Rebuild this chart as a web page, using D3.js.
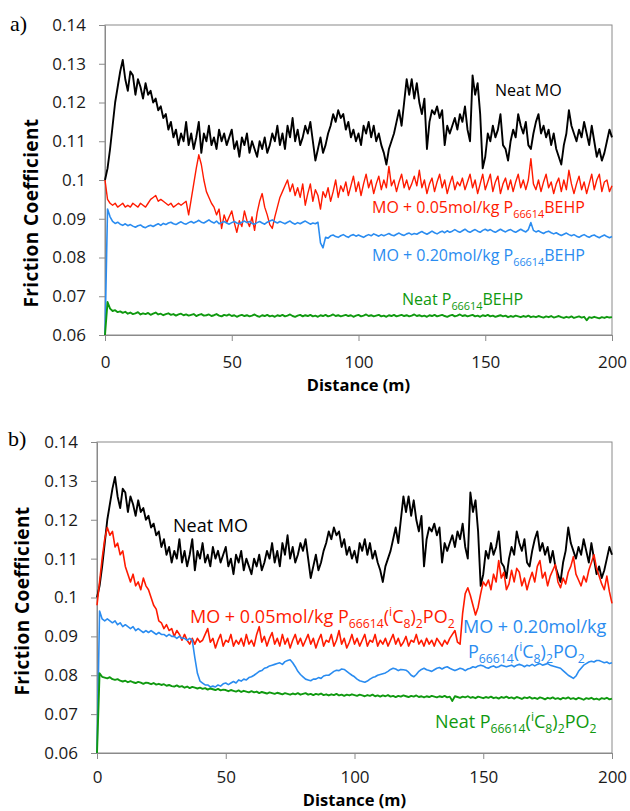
<!DOCTYPE html>
<html>
<head>
<meta charset="utf-8">
<script src="https://cdn.jsdelivr.net/npm/d3@7"></script>
<style>
  body { margin: 0; background: #fff; }
  svg { font-family: "Open Sans", sans-serif; }
</style>
</head>
<body>
<svg id="chart" width="630" height="811"></svg>
<script>
// distance in metres, one reading per metre
const distance = d3.range(0, 201);
const xTicks = [0, 50, 100, 150, 200];
const yTicks = [0.06, 0.07, 0.08, 0.09, 0.1, 0.11, 0.12, 0.13, 0.14];

// Neat MO (same run in both panels)
const neatMO = [
  0.100,0.103,0.108,0.114,0.120,0.124,0.128,0.131,0.126,0.123,
  0.128,0.127,0.122,0.126,0.124,0.121,0.125,0.122,0.123,0.120,
  0.121,0.118,0.119,0.116,0.117,0.113,0.115,0.111,0.113,0.109,
  0.112,0.110,0.115,0.109,0.112,0.108,0.111,0.115,0.107,0.112,
  0.110,0.114,0.109,0.111,0.108,0.113,0.110,0.112,0.109,0.111,
  0.113,0.108,0.110,0.106,0.111,0.109,0.112,0.107,0.110,0.108,
  0.106,0.110,0.108,0.111,0.107,0.109,0.112,0.110,0.114,0.109,
  0.112,0.108,0.114,0.111,0.116,0.110,0.113,0.109,0.111,0.114,
  0.112,0.115,0.110,0.105,0.108,0.111,0.107,0.109,0.112,0.114,
  0.117,0.115,0.118,0.116,0.117,0.113,0.115,0.111,0.113,0.110,
  0.112,0.109,0.114,0.112,0.115,0.111,0.114,0.110,0.112,0.109,
  0.107,0.104,0.108,0.110,0.112,0.115,0.118,0.114,0.120,0.126,
  0.122,0.126,0.121,0.125,0.120,0.117,0.121,0.108,0.115,0.118,
  0.117,0.119,0.116,0.118,0.109,0.114,0.112,0.114,0.116,0.113,
  0.117,0.115,0.119,0.113,0.110,0.127,0.122,0.125,0.117,0.103,
  0.106,0.112,0.110,0.114,0.111,0.113,0.117,0.109,0.108,0.105,
  0.110,0.113,0.111,0.117,0.114,0.112,0.115,0.109,0.108,0.112,
  0.115,0.117,0.112,0.114,0.111,0.113,0.109,0.112,0.108,0.106,
  0.104,0.109,0.112,0.118,0.114,0.112,0.110,0.113,0.111,0.115,
  0.112,0.109,0.114,0.110,0.106,0.108,0.105,0.107,0.110,0.113,
  0.111
];

// panel a: P66614BEHP
const mo005BEHP = [
  0.100,0.095,0.094,0.0935,0.094,0.093,0.0935,0.094,0.093,0.0935,
  0.093,0.094,0.0935,0.093,0.094,0.0935,0.093,0.094,0.095,0.0955,
  0.096,0.0945,0.095,0.0945,0.094,0.0935,0.094,0.093,0.0935,0.094,
  0.0935,0.094,0.0945,0.091,0.095,0.099,0.103,0.1065,0.104,0.100,
  0.097,0.0955,0.094,0.093,0.091,0.0925,0.0875,0.091,0.089,0.0905,
  0.092,0.089,0.0865,0.0895,0.088,0.092,0.0895,0.088,0.0905,0.087,
  0.0915,0.0945,0.0965,0.093,0.091,0.0885,0.0875,0.0905,0.093,0.0955,
  0.097,0.0985,0.100,0.097,0.099,0.096,0.098,0.0955,0.099,0.0935,
  0.0965,0.099,0.0945,0.0975,0.096,0.0925,0.097,0.0955,0.098,0.0945,
  0.097,0.100,0.0955,0.0985,0.097,0.0995,0.096,0.0985,0.101,0.097,
  0.0995,0.096,0.099,0.1015,0.098,0.100,0.0965,0.099,0.101,0.0975,
  0.100,0.098,0.1035,0.0985,0.100,0.097,0.0995,0.1015,0.098,0.100,
  0.0975,0.099,0.101,0.0985,0.1025,0.098,0.100,0.0965,0.099,0.1005,
  0.097,0.0995,0.1015,0.098,0.100,0.0965,0.099,0.101,0.0975,0.0995,
  0.0985,0.1005,0.0975,0.0995,0.1015,0.098,0.100,0.0965,0.099,0.1015,
  0.0975,0.0995,0.1015,0.097,0.0995,0.101,0.0965,0.099,0.1005,0.0975,
  0.100,0.097,0.0995,0.1015,0.098,0.100,0.0975,0.100,0.1055,0.099,
  0.0975,0.100,0.097,0.0995,0.1015,0.098,0.0995,0.0965,0.099,0.1005,
  0.097,0.100,0.0975,0.1025,0.099,0.0965,0.099,0.101,0.0975,0.0995,
  0.0965,0.099,0.1015,0.0975,0.100,0.1015,0.097,0.0995,0.100,0.097,
  0.0985
];
const mo020BEHP = [
  0.060,0.0925,0.0905,0.0893,0.0888,0.0891,0.0886,0.0883,0.0887,0.0882,
  0.0885,0.0881,0.0878,0.0882,0.0884,0.0879,0.0877,0.0881,0.0883,0.0880,
  0.0884,0.0887,0.0883,0.0888,0.0885,0.0889,0.0891,0.0887,0.0885,0.0889,
  0.0892,0.0888,0.0886,0.0890,0.0893,0.0889,0.0892,0.0896,0.0891,0.0889,
  0.0893,0.0897,0.0892,0.0889,0.0894,0.0887,0.0890,0.0893,0.0889,0.0886,
  0.0890,0.0893,0.0889,0.0887,0.0891,0.0894,0.0890,0.0893,0.0888,0.0886,
  0.0890,0.0893,0.0889,0.0886,0.0891,0.0894,0.0897,0.0892,0.0889,0.0893,
  0.0890,0.0887,0.0891,0.0894,0.0889,0.0886,0.0890,0.0887,0.0891,0.0894,
  0.0890,0.0886,0.0889,0.0887,0.0891,0.0838,0.0825,0.0852,0.0850,0.0856,
  0.0858,0.0854,0.0852,0.0856,0.0859,0.0855,0.0852,0.0857,0.0859,0.0855,
  0.0858,0.0855,0.0852,0.0856,0.0859,0.0856,0.0861,0.0858,0.0855,0.0859,
  0.0856,0.0859,0.0862,0.0858,0.0856,0.0860,0.0863,0.0859,0.0857,0.0861,
  0.0863,0.0859,0.0862,0.0860,0.0864,0.0867,0.0863,0.0860,0.0864,0.0868,
  0.0864,0.0861,0.0865,0.0868,0.0864,0.0869,0.0865,0.0868,0.0872,0.0868,
  0.0865,0.0869,0.0873,0.0868,0.0865,0.0869,0.0872,0.0868,0.0865,0.0870,
  0.0873,0.0869,0.0872,0.0868,0.0865,0.0869,0.0873,0.0869,0.0866,0.0870,
  0.0872,0.0868,0.0865,0.0869,0.0873,0.0869,0.0866,0.0872,0.0890,0.0870,
  0.0866,0.0869,0.0865,0.0862,0.0866,0.0868,0.0864,0.0861,0.0864,0.0860,
  0.0857,0.0860,0.0863,0.0859,0.0856,0.0859,0.0855,0.0852,0.0856,0.0859,
  0.0855,0.0852,0.0856,0.0858,0.0854,0.0851,0.0855,0.0858,0.0854,0.0851,
  0.0854
];
const neatBEHP = [
  0.060,0.0685,0.0668,0.0662,0.0664,0.0659,0.0661,0.0657,0.0660,0.0655,
  0.0658,0.0654,0.0656,0.0659,0.0653,0.0656,0.0654,0.0657,0.0652,0.0655,
  0.0658,0.0653,0.0655,0.0651,0.0654,0.0656,0.0652,0.0654,0.0650,0.0653,
  0.0655,0.0651,0.0653,0.0650,0.0652,0.0654,0.0649,0.0652,0.0654,0.0650,
  0.0651,0.0653,0.0649,0.0651,0.0654,0.0650,0.0648,0.0652,0.0650,0.0653,
  0.0649,0.0651,0.0647,0.0650,0.0652,0.0649,0.0651,0.0648,0.0650,0.0653,
  0.0649,0.0647,0.0651,0.0649,0.0652,0.0648,0.0650,0.0647,0.0651,0.0649,
  0.0652,0.0648,0.0650,0.0653,0.0649,0.0647,0.0650,0.0652,0.0648,0.0651,
  0.0649,0.0652,0.0648,0.0650,0.0647,0.0651,0.0649,0.0652,0.0648,0.0650,
  0.0653,0.0649,0.0651,0.0648,0.0650,0.0652,0.0649,0.0651,0.0647,0.0650,
  0.0652,0.0648,0.0650,0.0653,0.0649,0.0651,0.0648,0.0650,0.0652,0.0648,
  0.0650,0.0647,0.0651,0.0649,0.0652,0.0648,0.0650,0.0652,0.0649,0.0651,
  0.0648,0.0650,0.0653,0.0649,0.0651,0.0648,0.0650,0.0647,0.0651,0.0649,
  0.0652,0.0648,0.0650,0.0652,0.0649,0.0647,0.0650,0.0652,0.0648,0.0650,
  0.0653,0.0649,0.0651,0.0648,0.0650,0.0652,0.0648,0.0650,0.0647,0.0651,
  0.0649,0.0652,0.0648,0.0650,0.0647,0.0649,0.0651,0.0648,0.0650,0.0646,
  0.0649,0.0647,0.0650,0.0648,0.0646,0.0649,0.0647,0.0650,0.0646,0.0648,
  0.0646,0.0649,0.0647,0.0645,0.0648,0.0646,0.0649,0.0645,0.0647,0.0649,
  0.0646,0.0644,0.0647,0.0645,0.0648,0.0644,0.0646,0.0648,0.0645,0.0647,
  0.0638,0.0646,0.0644,0.0647,0.0645,0.0643,0.0646,0.0644,0.0647,0.0645,
  0.0646
];

// panel b: P66614(iC8)2PO2
const mo005IC8 = [
  0.098,0.104,0.110,0.115,0.118,0.116,0.117,0.113,0.114,0.111,
  0.112,0.108,0.106,0.104,0.106,0.103,0.104,0.102,0.105,0.103,
  0.102,0.100,0.098,0.097,0.094,0.0935,0.092,0.093,0.0915,0.092,
  0.090,0.0915,0.0905,0.089,0.0905,0.089,0.088,0.0895,0.088,0.0895,
  0.0885,0.089,0.0905,0.092,0.0885,0.0895,0.087,0.089,0.0905,0.0875,
  0.089,0.0885,0.0905,0.0875,0.089,0.088,0.0895,0.0875,0.0905,0.088,
  0.089,0.0875,0.0905,0.0925,0.0885,0.090,0.0875,0.0895,0.091,0.088,
  0.0895,0.0875,0.0905,0.088,0.0895,0.087,0.089,0.0905,0.088,0.0895,
  0.0875,0.089,0.0905,0.088,0.0895,0.087,0.089,0.0905,0.0875,0.089,
  0.0885,0.0905,0.0875,0.089,0.0915,0.088,0.0895,0.087,0.0885,0.0905,
  0.088,0.0895,0.0875,0.089,0.0905,0.0875,0.089,0.0885,0.0905,0.0875,
  0.089,0.088,0.0895,0.0875,0.089,0.0905,0.088,0.0895,0.0875,0.0885,
  0.090,0.0875,0.089,0.0885,0.0905,0.088,0.089,0.0875,0.0895,0.088,
  0.089,0.0875,0.0895,0.0885,0.0875,0.089,0.088,0.0895,0.0905,0.0915,
  0.0885,0.088,0.096,0.101,0.1025,0.1005,0.098,0.0955,0.0975,0.101,
  0.104,0.103,0.1045,0.102,0.106,0.104,0.1095,0.105,0.1065,0.102,
  0.1035,0.107,0.104,0.1075,0.1065,0.103,0.105,0.102,0.1045,0.1065,
  0.104,0.108,0.1095,0.105,0.1065,0.103,0.1055,0.107,0.1085,0.104,
  0.1025,0.105,0.1035,0.1065,0.108,0.1105,0.106,0.1045,0.103,0.1055,
  0.104,0.107,0.109,0.111,0.1075,0.1055,0.1035,0.102,0.1055,0.1015,
  0.0985
];
const mo020IC8 = [
  0.060,0.0965,0.0945,0.094,0.0945,0.094,0.0935,0.094,0.093,0.0935,
  0.0925,0.093,0.0925,0.092,0.0925,0.0915,0.092,0.0915,0.091,0.0915,
  0.091,0.0915,0.091,0.0905,0.091,0.0905,0.0905,0.090,0.0905,0.090,
  0.090,0.0895,0.090,0.0895,0.0895,0.089,0.0895,0.089,0.0845,0.0805,
  0.0785,0.078,0.0775,0.0775,0.077,0.0772,0.077,0.0775,0.0772,0.0778,
  0.078,0.0776,0.078,0.0784,0.078,0.0788,0.0785,0.079,0.0788,0.0794,
  0.0796,0.080,0.0805,0.081,0.0812,0.0818,0.082,0.0824,0.0826,0.0828,
  0.083,0.0832,0.0828,0.0835,0.0838,0.084,0.0832,0.0822,0.081,0.0802,
  0.0796,0.079,0.0788,0.0786,0.079,0.079,0.0794,0.0792,0.0798,0.080,
  0.080,0.0805,0.081,0.0813,0.0812,0.0816,0.0815,0.081,0.0805,0.080,
  0.0796,0.079,0.0786,0.0784,0.0782,0.0785,0.079,0.0794,0.0796,0.080,
  0.0802,0.0804,0.0806,0.081,0.0815,0.0818,0.0816,0.0812,0.0815,0.0814,
  0.0813,0.0808,0.080,0.0796,0.0802,0.081,0.0815,0.0818,0.0814,0.0812,
  0.081,0.0814,0.0818,0.082,0.0816,0.082,0.0822,0.0818,0.0815,0.0812,
  0.0815,0.0818,0.0816,0.0812,0.0816,0.0818,0.0822,0.082,0.0824,0.0826,
  0.0824,0.082,0.0818,0.0822,0.0824,0.082,0.0822,0.0826,0.0824,0.0822,
  0.0824,0.0826,0.0822,0.0826,0.0828,0.0826,0.0822,0.0826,0.0824,0.0828,
  0.0824,0.0828,0.083,0.0826,0.0828,0.083,0.0826,0.0824,0.0822,0.082,
  0.0818,0.0812,0.0806,0.080,0.0796,0.0792,0.0798,0.081,0.0818,0.0826,
  0.083,0.0834,0.0836,0.0834,0.0838,0.0838,0.0835,0.0832,0.0834,0.083,
  0.0832
];
const neatIC8 = [
  0.060,0.0805,0.0796,0.0794,0.0792,0.0795,0.079,0.0788,0.079,0.0786,
  0.0784,0.0786,0.0782,0.0785,0.0782,0.078,0.0783,0.0781,0.0778,0.0781,
  0.078,0.0777,0.078,0.0776,0.0778,0.0775,0.0777,0.0773,0.0775,0.0772,
  0.0771,0.0774,0.077,0.0772,0.0768,0.0771,0.0767,0.077,0.0768,0.0766,
  0.0768,0.0765,0.0767,0.0763,0.0766,0.0764,0.0762,0.0765,0.0761,0.0763,
  0.0762,0.0759,0.0762,0.076,0.0758,0.0761,0.0757,0.076,0.0758,0.0756,
  0.0759,0.0756,0.0758,0.0754,0.0757,0.0755,0.0753,0.0756,0.0754,0.0752,
  0.0755,0.0753,0.0751,0.0754,0.0752,0.075,0.0753,0.0751,0.0754,0.075,
  0.0752,0.0754,0.075,0.0752,0.0749,0.0752,0.075,0.0753,0.0749,0.0751,
  0.0748,0.0751,0.0749,0.0752,0.0748,0.075,0.0747,0.075,0.0748,0.0751,
  0.0749,0.0747,0.075,0.0748,0.0746,0.0749,0.0747,0.075,0.0746,0.0748,
  0.0745,0.0748,0.0746,0.0749,0.0745,0.0747,0.0744,0.0747,0.0745,0.0748,
  0.0746,0.0744,0.0747,0.0745,0.0748,0.0744,0.0746,0.0743,0.0746,0.0744,
  0.0747,0.0745,0.0743,0.0746,0.0744,0.0747,0.0743,0.0745,0.0734,0.0746,
  0.0744,0.0742,0.0745,0.0743,0.0746,0.0742,0.0744,0.0741,0.0745,0.0743,
  0.0741,0.0744,0.0742,0.0745,0.0741,0.0743,0.074,0.0744,0.0742,0.0745,
  0.0741,0.0743,0.074,0.0744,0.0742,0.0739,0.0743,0.0741,0.0744,0.074,
  0.0742,0.0739,0.0743,0.0741,0.0738,0.0742,0.074,0.0743,0.0739,0.0741,
  0.0738,0.0742,0.074,0.0743,0.0739,0.0741,0.0738,0.0742,0.074,0.0737,
  0.0741,0.0739,0.0742,0.0738,0.074,0.0737,0.0741,0.0739,0.0742,0.0738,
  0.074
];

const BLACK = "#000000", RED = "#ff1a00", BLUE = "#2a8cf0", GREEN = "#0f990f";
const svg = d3.select("#chart");

// text with sub/superscripts: parts = [[text, "sub"|"sup"|null], ...]
function richText(g, x, y, parts, color, size) {
  const t = g.append("text")
    .attr("x", x).attr("y", y)
    .attr("fill", color)
    .style("font-size", size + "px");
  let shift = 0;
  parts.forEach(([s, k]) => {
    const target = k === "sub" ? size * 0.3 : k === "sup" ? -size * 0.4 : 0;
    t.append("tspan")
      .attr("dy", target - shift)
      .style("font-size", k ? (size * 0.68) + "px" : null)
      .text(s);
    shift = target;
  });
}

function drawPanel(p) {
  const x = d3.scaleLinear().domain([0, 200]).range([p.left, p.right]);
  const y = d3.scaleLinear().domain([0.06, 0.14]).range([p.bottom, p.top]);
  const g = svg.append("g");

  g.append("text")
    .attr("x", p.tagX).attr("y", p.tagY)
    .style("font-family", "'Liberation Serif', 'Times New Roman', serif")
    .style("font-size", "22px")
    .text(p.tag);

  // plot border (top / right)
  g.append("rect")
    .attr("x", p.left).attr("y", p.top)
    .attr("width", p.right - p.left).attr("height", p.bottom - p.top)
    .attr("fill", "none").attr("stroke", "#8a8a8a");

  const yAxis = g.append("g")
    .attr("transform", `translate(${p.left},0)`)
    .call(d3.axisLeft(y).tickValues(yTicks).tickSizeInner(6).tickSizeOuter(0)
      .tickPadding(13).tickFormat(d => String(+d.toFixed(2))));
  const xAxis = g.append("g")
    .attr("transform", `translate(0,${p.bottom})`)
    .call(d3.axisBottom(x).tickValues(xTicks).tickSizeInner(6).tickSizeOuter(0)
      .tickPadding(p.xPad).tickFormat(d3.format("d")));
  [yAxis, xAxis].forEach(a => {
    a.select(".domain").attr("stroke", "#8a8a8a");
    a.selectAll(".tick line").attr("stroke", "#8a8a8a");
    a.selectAll(".tick text").attr("fill", "#1a1a1a")
      .style("font-size", "17px").style("font-family", "'Open Sans', sans-serif");
  });

  const line = d3.line().x((d, i) => x(distance[i])).y(d => y(d));
  p.series.forEach(s => {
    g.append("path")
      .datum(s.values)
      .attr("d", line)
      .attr("fill", "none")
      .attr("stroke", s.color)
      .attr("stroke-width", s.width)
      .attr("stroke-linejoin", "round");
  });

  p.labels.forEach(l => richText(g, l.x, l.y, l.parts, l.color, l.size));

  g.append("text")
    .attr("transform", `translate(${p.yTitleX},${p.yTitleY}) rotate(-90)`)
    .attr("text-anchor", "middle")
    .style("font-size", "19px").style("font-weight", "bold")
    .style("letter-spacing", "0.4px")
    .text("Friction Coefficient");

  g.append("text")
    .attr("x", (p.left + p.right) / 2).attr("y", p.xTitleY)
    .attr("text-anchor", "middle")
    .style("font-size", "16.5px").style("font-weight", "bold")
    .text("Distance (m)");
}

drawPanel({
  tag: "a)", tagX: 10, tagY: 31,
  left: 105, right: 612, top: 25, bottom: 335, xPad: 15,
  yTitleX: 38, yTitleY: 213, xTitleY: 391,
  series: [
    { values: neatMO, color: BLACK, width: 1.9 },
    { values: mo005BEHP, color: RED, width: 1.4 },
    { values: mo020BEHP, color: BLUE, width: 1.6 },
    { values: neatBEHP, color: GREEN, width: 1.9 }
  ],
  labels: [
    { x: 495, y: 96, size: 16, color: BLACK, parts: [["Neat MO"]] },
    { x: 372, y: 213, size: 16, color: RED,
      parts: [["MO + 0.05mol/kg P"], ["66614", "sub"], ["BEHP"]] },
    { x: 372, y: 261, size: 16, color: BLUE,
      parts: [["MO + 0.20mol/kg P"], ["66614", "sub"], ["BEHP"]] },
    { x: 402, y: 305, size: 16, color: GREEN,
      parts: [["Neat P"], ["66614", "sub"], ["BEHP"]] }
  ]
});

drawPanel({
  tag: "b)", tagX: 8, tagY: 446,
  left: 97, right: 612, top: 442, bottom: 753, xPad: 12,
  yTitleX: 29, yTitleY: 601, xTitleY: 806,
  series: [
    { values: neatMO, color: BLACK, width: 1.9 },
    { values: mo005IC8, color: RED, width: 1.6 },
    { values: mo020IC8, color: BLUE, width: 1.6 },
    { values: neatIC8, color: GREEN, width: 1.9 }
  ],
  labels: [
    { x: 173, y: 532, size: 18, color: BLACK, parts: [["Neat MO"]] },
    { x: 190, y: 623, size: 18, color: RED,
      parts: [["MO + 0.05mol/kg P"], ["66614", "sub"], ["("], ["i", "sup"], ["C"], ["8", "sub"], [")"], ["2", "sub"], ["PO"], ["2", "sub"]] },
    { x: 463, y: 633, size: 18, color: BLUE, parts: [["MO + 0.20mol/kg"]] },
    { x: 468, y: 658, size: 18, color: BLUE,
      parts: [["P"], ["66614", "sub"], ["("], ["i", "sup"], ["C"], ["8", "sub"], [")"], ["2", "sub"], ["PO"], ["2", "sub"]] },
    { x: 435, y: 728, size: 18, color: GREEN,
      parts: [["Neat P"], ["66614", "sub"], ["("], ["i", "sup"], ["C"], ["8", "sub"], [")"], ["2", "sub"], ["PO"], ["2", "sub"]] }
  ]
});
</script>
</body>
</html>
